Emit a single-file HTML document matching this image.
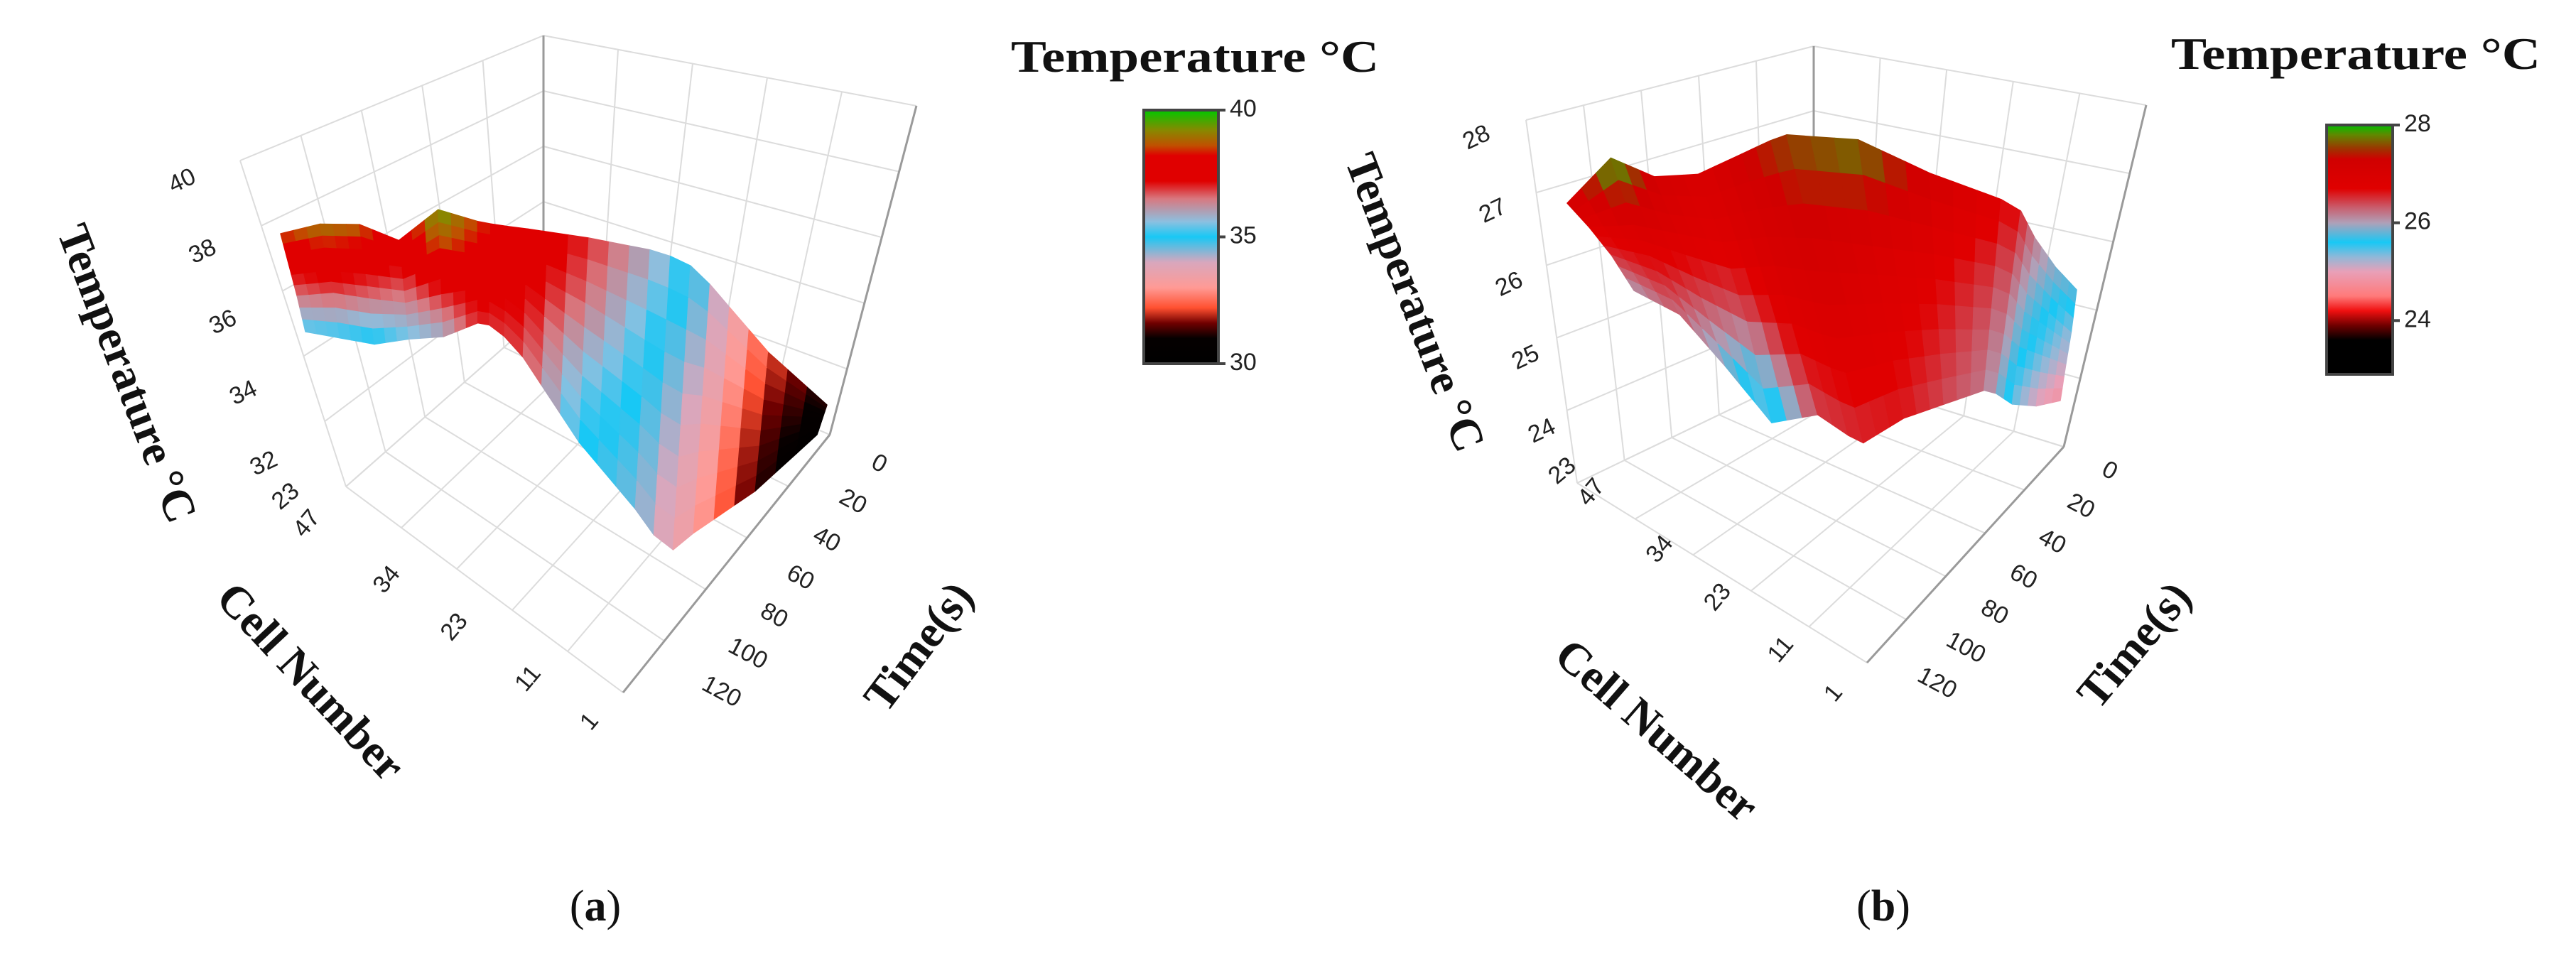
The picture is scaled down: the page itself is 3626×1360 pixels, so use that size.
<!DOCTYPE html>
<html><head><meta charset="utf-8"><style>
html,body{margin:0;padding:0;background:#fff;}
svg{display:block;}
.tk{font-family:"Liberation Sans","DejaVu Sans",sans-serif;font-size:34px;fill:#222;}
.ttl{font-family:"Liberation Serif",serif;font-weight:bold;font-size:64px;fill:#111;}
.cap{font-family:"Liberation Serif",serif;font-size:62px;fill:#111;}
</style></head><body>
<svg id="fig" width="3626" height="1360" viewBox="0 0 3626 1360" xmlns="http://www.w3.org/2000/svg">
<defs id="defs"></defs>
<g id="panelA"></g>
<g id="panelB"></g>
<text class="cap" x="838" y="1296" text-anchor="middle">(<tspan font-weight="bold">a</tspan>)</text>
<text class="cap" x="2651" y="1296" text-anchor="middle">(<tspan font-weight="bold">b</tspan>)</text>
</svg>
<script>
// ---- Panel (a) data ----
const tempTicksA=[32,34,36,38,40];
const cellTicksA=['1','11','23','34','47'];
const timeTicksA=[0,20,40,60,80,100,120];
const cbTicksA=[30,35,40];
const cmapTA=[30,31,31.6,32.2,33,34,35,35.6,36.5,37.2,38.2,38.6,39.2,40];
const cmapCA=['#000000','#050000','#700000','#ff5030','#ff9a95','#d8a7bd','#18c8f5','#8cc0e0','#d87880','#e00000','#e00000','#c05000','#888800','#00c800'];
const surfA0=[38.5,39.0,38.8,37.5,39.5,38.5,37.8,37.0,36.0,34.5,32.2,31.0];
const surfA1=[37.5,37.8,37.6,37.2,38.5,38.0,37.5,36.5,35.2,34.0,31.8,30.8];
const surfA2=[36.5,36.8,36.5,36.3,37.0,37.5,37.2,35.5,34.8,33.5,31.5,30.6];
const surfA3=[35.2,35.0,34.8,35.4,35.8,37.0,36.8,35.0,34.5,33.2,31.3,30.4];
// ---- Panel (b) data ----
const tempTicksB=[23,24,25,26,27,28];
const cellTicksB=['1','11','23','34','47'];
const timeTicksB=[0,20,40,60,80,100,120];
const cbTicksB=[24,26,28];
const cmapTB=[22.9,23.6,23.9,24.2,24.5,25.0,25.3,25.6,26.0,26.3,26.7,27.3,27.5,27.8,28.0];
const cmapCB=['#000000','#000000','#700000','#f01010','#ff7a7a','#e8a0b8','#90b8d8','#18c8f5','#b0a0b8','#c86070','#e00000','#d00000','#a03000','#608800','#00c000'];
const surfB0=[27.0,28.0,27.2,27.0,27.3,27.6,27.8,27.2,26.8,26.2,25.9,25.8];
const surfB1=[26.8,27.0,26.9,26.8,27.1,27.2,27.0,26.8,26.5,25.9,25.6,25.3];
const surfB2=[26.5,26.6,26.4,26.3,26.8,26.9,26.8,26.6,26.3,25.7,25.4,25.1];
const surfB3=[26.0,26.3,25.8,25.2,26.4,26.5,26.6,26.4,26.2,25.4,25.0,24.8];

const NS='http://www.w3.org/2000/svg';
function mk(tag,attrs,parent){const e=document.createElementNS(NS,tag);for(const k in attrs)e.setAttribute(k,attrs[k]);parent.appendChild(e);return e;}
function hex(c){return [parseInt(c.slice(1,3),16),parseInt(c.slice(3,5),16),parseInt(c.slice(5,7),16)];}
function cmap(T,ts,cs){
  if(T<=ts[0])return cs[0];if(T>=ts[ts.length-1])return cs[cs.length-1];
  for(let i=0;i<ts.length-1;i++){if(T>=ts[i]&&T<=ts[i+1]){const f=(T-ts[i])/(ts[i+1]-ts[i]);const a=hex(cs[i]),b=hex(cs[i+1]);
    return 'rgb('+a.map((v,k)=>Math.round(v+(b[k]-v)*f)).join(',')+')';}}
}
function lerp(a,b,f){return [a[0]+(b[0]-a[0])*f,a[1]+(b[1]-a[1])*f];}
function bil(q,u,v){const a=lerp(q[0],q[1],u),b=lerp(q[3],q[2],u);return lerp(a,b,v);}

function drawPanel(g,cfg){
  const walls=[cfg.leftWall,cfg.rightWall,cfg.floor];
  walls.forEach((q,wi)=>{
    for(let i=0;i<=cfg.gridN;i++){const f=i/cfg.gridN;
      let p=bil(q,f,0),r=bil(q,f,1);
      let l=mk('line',{x1:p[0],y1:p[1],x2:r[0],y2:r[1],stroke:'#dcdcdc','stroke-width':2},g);
      
      
      p=bil(q,0,f);r=bil(q,1,f);
      l=mk('line',{x1:p[0],y1:p[1],x2:r[0],y2:r[1],stroke:'#dcdcdc','stroke-width':2},g);
      
      
    }
  });
  cfg.axisLines.forEach(a=>{const l=mk('line',{x1:a[0],y1:a[1],x2:a[2],y2:a[3],stroke:'#9a9a9a','stroke-width':3},g);
    
    });
  const rows=cfg.surf[0].length, cols=cfg.surf.length;
  const T=(i,j)=>cfg.surf[j][i];
  function base(s,w){const fr=cfg.frames;let k=0;while(k<fr.length-2&&s>fr[k+1][0])k++;
    const f=(s-fr[k][0])/(fr[k+1][0]-fr[k][0]);
    const top=lerp([fr[k][1],fr[k][2]],[fr[k+1][1],fr[k+1][2]],f);
    const bot=lerp([fr[k][3],fr[k][4]],[fr[k+1][3],fr[k+1][4]],f);
    return lerp(top,bot,w);}
  function proj(s,w,t){const b=base(s,w);return [b[0],b[1]-(t-cfg.tBase)*cfg.k];}
  function tAt(si,wj){
    const i0=Math.min(Math.floor(si),rows-2),j0=Math.min(Math.floor(wj),cols-2);const fi=si-i0,fj=wj-j0;
    return T(i0,j0)*(1-fi)*(1-fj)+T(i0+1,j0)*fi*(1-fj)+T(i0,j0+1)*(1-fi)*fj+T(i0+1,j0+1)*fi*fj;}
  const sub=3;const sg=mk('g',{},g);
  
  
  for(let j=0;j<(cols-1)*sub;j++){for(let i=0;i<(rows-1)*sub;i++){
    const pts=[[i,j],[i+1,j],[i+1,j+1],[i,j+1]].map(p=>{const si=p[0]/sub,wj=p[1]/sub;const t=tAt(si,wj);return proj(si/(rows-1),wj/(cols-1),t);});
    const tm=tAt((i+0.5)/sub,(j+0.5)/sub);const c=cmap(tm,cfg.cT,cfg.cC);
    const pg=mk('polygon',{points:pts.map(p=>p[0].toFixed(1)+','+p[1].toFixed(1)).join(' '),fill:c,stroke:c,'stroke-width':1.5,'stroke-linejoin':'round'},sg);
    
    
  }}
  const tk=(arr,a0,a1,vmin,vmax,rot,name)=>arr.forEach((v,idx)=>{
    const num=typeof v==='number'?v:parseFloat(v);
    const f=(num-vmin)/(vmax-vmin);const p=lerp(a0,a1,f);
    const t=mk('text',{class:'tk',x:p[0],y:p[1],'text-anchor':'middle','dominant-baseline':'middle',transform:'rotate('+rot+' '+p[0]+' '+p[1]+')'},g);
    t.textContent=String(v);
    
    });
  tk(cfg.zTicks,cfg.zA0,cfg.zA1,cfg.zTicks[0],cfg.zTicks[cfg.zTicks.length-1],-25,'z-tick-label');
  tk(cfg.cTicks,cfg.cA0,cfg.cA1,1,47,-50,'cell-tick-label');
  tk(cfg.tTicks,cfg.tA0,cfg.tA1,0,120,28,'time-tick-label');
  cfg.extra.forEach(e=>{const t=mk('text',{class:'tk',x:e[1],y:e[2],'text-anchor':'middle','dominant-baseline':'middle',transform:'rotate(-40 '+e[1]+' '+e[2]+')'},g);
    t.textContent=e[0];
    
    });
  cfg.titles.forEach(a=>{const t=mk('text',{class:'ttl',x:a[1],y:a[2],'text-anchor':'middle','dominant-baseline':'middle',transform:'rotate('+a[3]+' '+a[1]+' '+a[2]+')'},g);
    t.textContent=a[0];
    
    });
  const gid='grad'+cfg.id;const lg=mk('linearGradient',{id:gid,x1:0,y1:0,x2:0,y2:1},document.getElementById('defs'));
  const tmin=cfg.cT[0],tmax=cfg.cT[cfg.cT.length-1];
  for(let i=cfg.cT.length-1;i>=0;i--)mk('stop',{offset:((tmax-cfg.cT[i])/(tmax-tmin)).toFixed(4),'stop-color':cfg.cC[i]},lg);
  const cb=cfg.cb;
  const r=mk('rect',{x:cb[0],y:cb[1],width:cb[2]-cb[0],height:cb[3]-cb[1],fill:'url(#'+gid+')',stroke:'#444','stroke-width':4},g);
  
  
  cfg.cbTicks.forEach(v=>{const y=cb[1]+(tmax-v)/(tmax-tmin)*(cb[3]-cb[1]);
    const l=mk('line',{x1:cb[2],y1:y,x2:cb[2]+10,y2:y,stroke:'#444','stroke-width':4},g);
    
    
    const t=mk('text',{class:'tk',x:cb[2]+16,y:y,'dominant-baseline':'middle','font-size':38},g);
    t.textContent=String(v);
    
    });
  const ct=mk('text',{class:'ttl',x:cfg.cbTitle[0],y:cfg.cbTitle[1],textLength:cfg.cbTitle[2],lengthAdjust:'spacingAndGlyphs','font-size':66},g);
  ct.textContent='Temperature \u00B0C';
  
  
}

drawPanel(document.getElementById('panelA'),{
  id:'A',gridN:5,
  leftWall:[[338,226],[765,50],[765,440],[487,685]],
  rightWall:[[765,50],[1290,149],[1168,612],[765,440]],
  floor:[[487,685],[765,440],[1168,612],[877,975]],
  axisLines:[[765,50,765,440],[1290,149,1168,612],[1168,612,877,975]],
  surf:[surfA0,surfA1,surfA2,surfA3],tBase:30,k:20,
  frames:[[0,395,499,430,571],[0.5,700,480,697,597],[0.78,965,470,940,855],[1,1164,590,1150,620]],
  cT:cmapTA,cC:cmapCA,
  zTicks:tempTicksA,zA0:[372,654],zA1:[257,256],
  cTicks:cellTicksA,cA0:[831,1017],cA1:[433,738],
  tTicks:timeTicksA,tA0:[1237,654],tA1:[1015,975],
  extra:[['23',403,700]],
  titles:[['Temperature \u00B0C',173,528,69,'z-axis-title'],['Cell Number',433,964,47,'cell-axis-title'],['Time(s)',1298,914,-53,'time-axis-title']],
  cb:[1610,155,1715,512],cbTicks:cbTicksA,cbTitle:[1423,101,518]
});
drawPanel(document.getElementById('panelB'),{
  id:'B',gridN:5,
  leftWall:[[2148,169],[2553,65],[2553,520],[2220,680]],
  rightWall:[[2553,65],[3021,148],[2905,629],[2553,520]],
  floor:[[2220,680],[2553,520],[2905,629],[2628,933]],
  axisLines:[[2553,65,2553,520],[3021,148,2905,629],[2905,629,2628,933]],
  surf:[surfB0,surfB1,surfB2,surfB3],tBase:23,k:50,
  frames:[[0,2206,486,2300,559],[0.45,2510,419,2620,800],[0.75,2842,475,2807,702],[1,2923,548,2900,654]],
  cT:cmapTB,cC:cmapCB,
  zTicks:tempTicksB.slice(1),zA0:[2171,608],zA1:[2079,195],
  cTicks:cellTicksB,cA0:[2582,977],cA1:[2241,694],
  tTicks:timeTicksB,tA0:[2969,664],tA1:[2726,963],
  extra:[['23',2200,664]],
  titles:[['Temperature \u00B0C',1986,428,69,'z-axis-title'],['Cell Number',2328,1033,41,'cell-axis-title'],['Time(s)',3009,912,-50,'time-axis-title']],
  cb:[3275,176,3368,527],cbTicks:cbTicksB,cbTitle:[3056,97,520]
});
</script>
</body></html>
